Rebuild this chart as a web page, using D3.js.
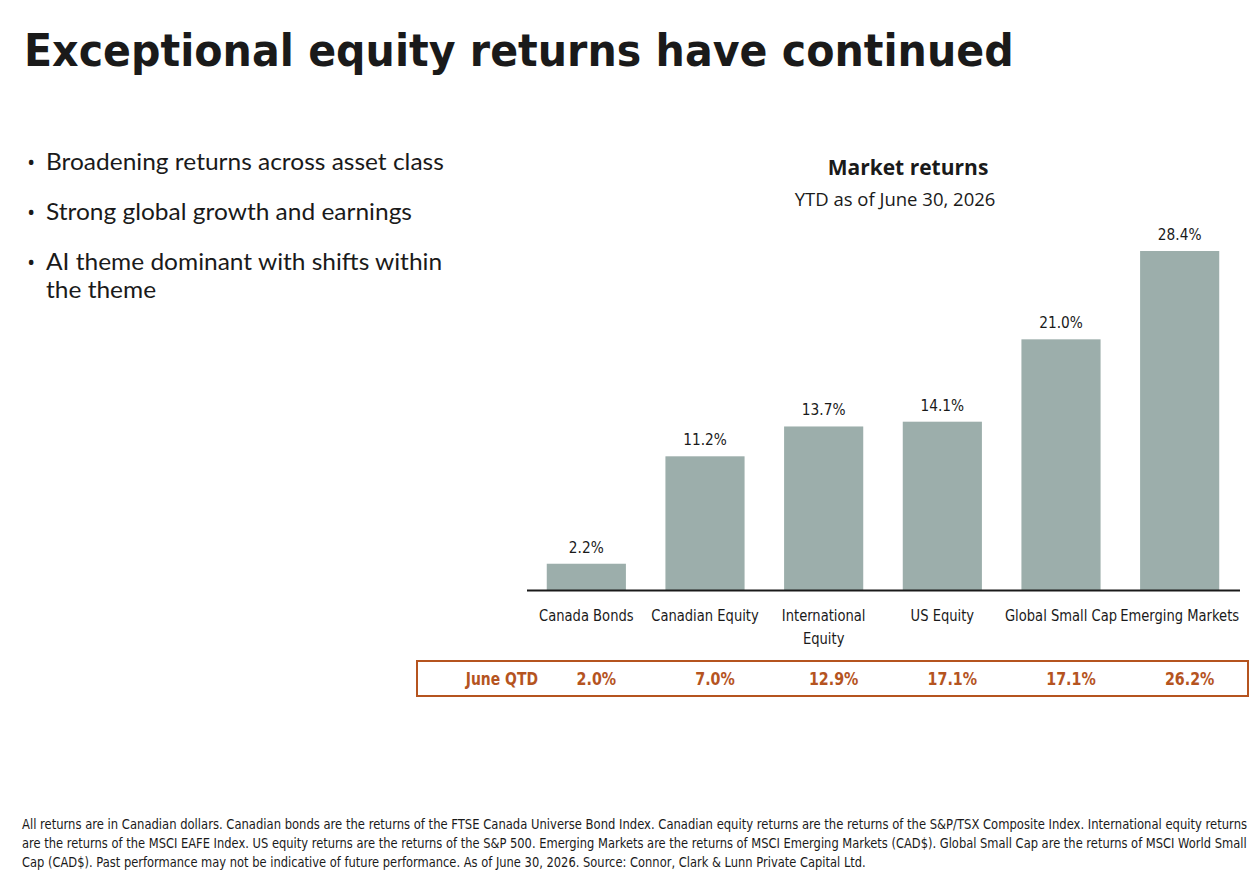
<!DOCTYPE html>
<html><head><meta charset="utf-8">
<script src="https://cdn.jsdelivr.net/npm/d3@7"></script>
<style>body{margin:0;background:#fff}</style>
</head><body>
<svg id="c" width="1259" height="887"></svg>
<script>
const categories = [["Canada Bonds"],["Canadian Equity"],["International","Equity"],["US Equity"],["Global Small Cap"],["Emerging Markets"]];
const ytdValues = [2.2, 11.2, 13.7, 14.1, 21.0, 28.4];
const qtdValues = [2.0, 7.0, 12.9, 17.1, 17.1, 26.2];
const bullets = [["Broadening returns across asset class"],["Strong global growth and earnings"],["AI theme dominant with shifts within","the theme"]];
const footer = [
 "All returns are in Canadian dollars. Canadian bonds are the returns of the FTSE Canada Universe Bond Index. Canadian equity returns are the returns of the S&P/TSX Composite Index. International equity returns",
 "are the returns of the MSCI EAFE Index. US equity returns are the returns of the S&P 500. Emerging Markets are the returns of MSCI Emerging Markets (CAD$). Global Small Cap are the returns of MSCI World Small",
 "Cap (CAD$). Past performance may not be indicative of future performance. As of June 30, 2026. Source: Connor, Clark & Lunn Private Capital Ltd."
];

const svg = d3.select("#c");
const narrow = "'DejaVu Sans',sans-serif";
const human = "'Open Sans','Noto Sans',sans-serif";
const orange = "#b5541f";

// horizontal condensing around the text's own x anchor
function condense(sel, s){
  sel.each(function(){
    const cx = +this.getAttribute("x");
    this.setAttribute("transform", `translate(${cx},0) scale(${s},1) translate(${-cx},0)`);
  });
}

const title = svg.append("text").attr("x",24).attr("y",66).attr("font-family","'DejaVu Sans',sans-serif")
  .attr("font-weight","bold").attr("font-size",45).attr("fill","#1a1a1a")
  .text("Exceptional equity returns have continued");
condense(title, 990/title.node().getComputedTextLength());

// bullets
const bulletY = [170,220,270];
let bs = null;
bullets.forEach((b,i)=>{
  svg.append("text").attr("x",27).attr("y",bulletY[i]).attr("font-family",human).attr("font-size",22).attr("fill","#1a1a1a").text("•");
  b.forEach((line,j)=>{
    const t = svg.append("text").attr("x",46).attr("y",bulletY[i]+j*28).attr("font-family","Lato,sans-serif")
      .attr("font-size",23).attr("fill","#1a1a1a").text(line);
    if(bs===null) bs = 398/t.node().getComputedTextLength();
    condense(t, bs);
  });
});

// chart
const x = d3.scaleBand().domain(d3.range(categories.length)).range([527,1239]).paddingInner(0.333).paddingOuter(0.1665);
const y = d3.scaleLinear().domain([0,28.4]).range([590,251]);

svg.append("text").attr("x",908).attr("y",175).attr("text-anchor","middle").attr("font-family",human)
  .attr("font-weight","bold").attr("font-size",21).attr("fill","#1a1a1a").text("Market returns");
svg.append("text").attr("x",895).attr("y",206).attr("text-anchor","middle").attr("font-family",human)
  .attr("font-size",18.5).attr("fill","#1a1a1a").text("YTD as of June 30, 2026");

svg.selectAll("rect.bar").data(ytdValues).join("rect").attr("class","bar")
  .attr("x",(d,i)=>x(i)).attr("width",x.bandwidth())
  .attr("y",d=>y(d)).attr("height",d=>y(0)-y(d)).attr("fill","#9caeab");

const vals = svg.selectAll("text.val").data(ytdValues).join("text").attr("class","val")
  .attr("x",(d,i)=>x(i)+x.bandwidth()/2).attr("y",d=>y(d)-11).attr("text-anchor","middle")
  .attr("font-family",narrow).attr("font-size",16).attr("fill","#1a1a1a").text(d=>d.toFixed(1)+"%");
condense(vals, 0.86);

svg.append("line").attr("x1",527).attr("x2",1240).attr("y1",y(0)+0.5).attr("y2",y(0)+0.5).attr("stroke","#1a1a1a").attr("stroke-width",2);

const cat = svg.selectAll("text.cat").data(categories).join("text").attr("class","cat")
  .attr("x",(d,i)=>x(i)+x.bandwidth()/2)
  .attr("text-anchor","middle").attr("font-family",narrow).attr("font-size",16).attr("fill","#1a1a1a");
cat.each(function(d,i){
  const t=d3.select(this);
  d.forEach((line,j)=>t.append("tspan").attr("x",x(i)+x.bandwidth()/2).attr("y",621+j*23).text(line));
});
condense(cat, 0.82);

// QTD box
svg.append("rect").attr("x",417).attr("y",661).attr("width",831).attr("height",35)
  .attr("fill","none").attr("stroke",orange).attr("stroke-width",2);
const qlab = svg.append("text").attr("x",538).attr("y",685).attr("text-anchor","end").attr("font-family",narrow)
  .attr("font-weight","bold").attr("font-size",17).attr("fill",orange).text("June QTD");
condense(qlab, 0.82);
const qv = svg.selectAll("text.qtd").data(qtdValues).join("text").attr("class","qtd")
  .attr("x",(d,i)=>x(i)+x.bandwidth()/2+10).attr("y",685).attr("text-anchor","middle")
  .attr("font-family",narrow).attr("font-weight","bold").attr("font-size",17).attr("fill",orange)
  .text(d=>d.toFixed(1)+"%");
condense(qv, 0.84);

// footer
let fs = 1;
footer.forEach((line,i)=>{
  const t = svg.append("text").attr("x",22).attr("y",829+i*19).attr("font-family",narrow)
    .attr("font-size",14).attr("fill","#1a1a1a").text(line);
  if(i<2) fs = 1226/t.node().getComputedTextLength();
  condense(t, fs);
});
</script>
</body></html>
